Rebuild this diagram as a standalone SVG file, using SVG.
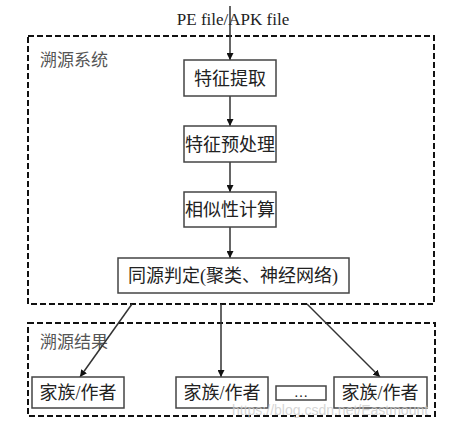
<svg xmlns="http://www.w3.org/2000/svg" width="459" height="429" viewBox="0 0 459 429">
<defs>
<style>
.bg{fill:#fff}
.grp{fill:none;stroke:#111;stroke-width:2;stroke-dasharray:6 3}
.box{fill:#fff;stroke:#444;stroke-width:1.5}
.t{font-family:"Liberation Serif","Noto Sans CJK SC",serif;font-size:18px;fill:#222;text-anchor:middle}
.lbl{font-family:"Liberation Serif","Noto Sans CJK SC",serif;font-size:17px;fill:#555}
.edge{fill:none;stroke:#333;stroke-width:1.5;marker-end:url(#arr)}
.wm{font-family:"Liberation Sans",Arial,sans-serif;font-size:14px;fill:#ccc;fill-opacity:0.8}
</style>
<marker id="arr" viewBox="0 0 10 10" refX="10" refY="5" markerWidth="7" markerHeight="7" markerUnits="userSpaceOnUse" orient="auto">
<path d="M0,0 L10,5 L0,10 z" fill="#111"/>
</marker>
</defs>
<rect class="bg" x="0" y="0" width="459" height="429"/>
<g id="system-group">
<rect class="grp" x="28" y="36" width="406" height="268"/>
<text class="lbl" x="40" y="66">溯源系统</text>
</g>
<g id="result-group">
<rect class="grp" x="28" y="323" width="407" height="93"/>
<text class="lbl" x="40" y="348">溯源结果</text>
</g>
<text class="t" x="233" y="25" style="font-size:17px">PE file/APK file</text>
<g id="connectors">
<line class="edge" x1="230" y1="6" x2="230" y2="60"/>
<line class="edge" x1="230" y1="96" x2="230" y2="126"/>
<line class="edge" x1="230" y1="162" x2="230" y2="192"/>
<line class="edge" x1="230" y1="227" x2="230" y2="258"/>
<line class="edge" x1="132" y1="304" x2="80" y2="377"/>
<line class="edge" x1="221" y1="304" x2="221" y2="377"/>
<line class="edge" x1="307" y1="304" x2="380" y2="377"/>
</g>
<g id="n-extract">
<rect class="box" x="184" y="60" width="92" height="36"/>
<text class="t" x="230" y="85">特征提取</text>
</g>
<g id="n-preprocess">
<rect class="box" x="184" y="126" width="92" height="36"/>
<text class="t" x="230" y="151">特征预处理</text>
</g>
<g id="n-similarity">
<rect class="box" x="184" y="192" width="92" height="35"/>
<text class="t" x="230" y="216">相似性计算</text>
</g>
<g id="n-judge">
<rect class="box" x="118" y="258" width="231" height="35"/>
<text class="t" x="233" y="282">同源判定(聚类、神经网络)</text>
</g>
<g id="n-result1">
<rect class="box" x="32" y="377" width="92" height="31"/>
<text class="t" x="78" y="399">家族/作者</text>
</g>
<g id="n-result2">
<rect class="box" x="176" y="377" width="92" height="31"/>
<text class="t" x="222" y="399">家族/作者</text>
</g>
<g id="n-dots">
<rect class="box" x="276" y="386" width="50" height="14"/>
<text class="t" x="301" y="397" style="font-size:14px">…</text>
</g>
<g id="n-result3">
<rect class="box" x="334" y="377" width="93" height="31"/>
<text class="t" x="380" y="399">家族/作者</text>
</g>
<text class="wm" x="232" y="415">https://blog.csdn.net/Eastmount</text>
</svg>
